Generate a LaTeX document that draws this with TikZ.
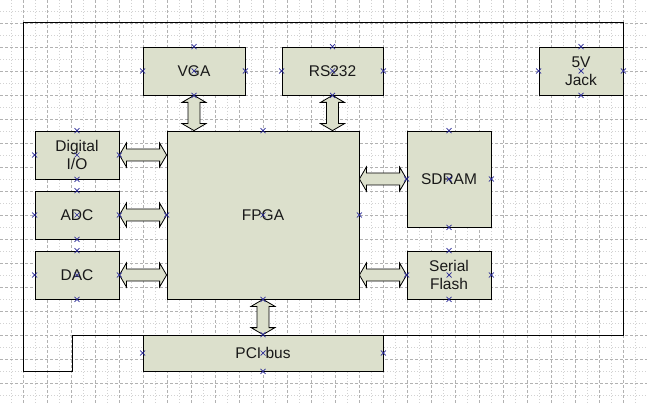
\documentclass[tikz,border=0pt]{standalone}
\usepackage{fontspec}
\setmainfont{Liberation Sans}
\usetikzlibrary{calc}

\definecolor{boxfill}{RGB}{220,224,204}
\definecolor{cptblue}{RGB}{40,40,150}

\begin{document}
\begin{tikzpicture}[
            x=1pt, y=-1pt,
            minor/.style={gray!35, line width=0.5pt, dash pattern=on 1pt off 2pt},
            major/.style={gray!60, line width=0.6pt, dash pattern=on 3pt off 2pt},
            board/.style={draw=black, line width=1pt},
            block/.style={draw=black, fill=boxfill, line width=0.8pt, inner sep=0pt,
                    align=center, text=black!90, font=\fontsize{15.5}{18}\selectfont},
            bus/.style={draw=black, fill=boxfill, line width=0.8pt, line join=miter},
            hbus/.style={to path={let \p1=(\tikztostart), \p2=(\tikztotarget) in
                    (\x1,\y1) -- (\x1+7pt,\y1+12pt) -- (\x1+7pt,\y1+6pt) -- (\x2-7pt,\y1+6pt)
                    -- (\x2-7pt,\y1+12pt) -- (\x2,\y1) -- (\x2-7pt,\y1-12pt) -- (\x2-7pt,\y1-6pt)
                    -- (\x1+7pt,\y1-6pt) -- (\x1+7pt,\y1-12pt) -- cycle}},
            vbus/.style={to path={let \p1=(\tikztostart), \p2=(\tikztotarget) in
                    (\x1,\y1) -- (\x1+12pt,\y1-7pt) -- (\x1+6pt,\y1-7pt) -- (\x1+6pt,\y2+7pt)
                    -- (\x1+12pt,\y2+7pt) -- (\x1,\y2) -- (\x1-12pt,\y2+7pt) -- (\x1-6pt,\y2+7pt)
                    -- (\x1-6pt,\y1-7pt) -- (\x1-12pt,\y1-7pt) -- cycle}},
            cpt/.style={draw=cptblue, line width=0.7pt}
        ]
        \useasboundingbox (0,0) rectangle (647,403);
        % grid
        \foreach \g in {11,35,...,647} {
            \draw[minor] (\g,0) -- (\g,403);
            \draw[minor] (0,\g) -- (647,\g);
        }
        \foreach \g in {23,47,...,647} {
            \draw[major] (\g,0) -- (\g,403);
            \draw[major] (0,\g) -- (647,\g);
        }
        % board outline
        \draw[board] (23,23) -- (623,23) -- (623,335) -- (383,335) -- (383,371) -- (143,371)
            -- (143,335) -- (72,335) -- (72,371) -- (23,371) -- cycle;

        % blocks
        \node[block, minimum width=102, minimum height=48] (vga) at (194,71) {VGA};
        \node[block, minimum width=101, minimum height=48] (rs) at (332.5,71) {RS232};
        \node[block, minimum width=84, minimum height=48] (jack) at (581,71) {5V\\Jack};
        \node[block, minimum width=84, minimum height=48] (dio) at (77,155) {Digital\\I/O};
        \node[block, minimum width=84, minimum height=48] (adc) at (77,215) {ADC};
        \node[block, minimum width=84, minimum height=48] (dac) at (77,275) {DAC};
        \node[block, minimum width=192, minimum height=168] (fpga) at (263,215) {FPGA};
        \node[block, minimum width=84, minimum height=96] (sdram) at (449,179) {SDRAM};
        \node[block, minimum width=84, minimum height=48] (flash) at (449,275) {Serial\\Flash};
        \node[block, minimum width=240, minimum height=36] (pci) at (263,353) {PCI bus};

        % buses
        \draw[bus] (vga.south) to[vbus] (vga.south |- fpga.north);
        \draw[bus] (rs.south) to[vbus] (rs.south |- fpga.north);
        \draw[bus] (fpga.south) to[vbus] (pci.north);
        \draw[bus] (dio.east) to[hbus] (dio.east -| fpga.west);
        \draw[bus] (adc.east) to[hbus] (adc.east -| fpga.west);
        \draw[bus] (dac.east) to[hbus] (dac.east -| fpga.west);
        \draw[bus] (fpga.east |- sdram.west) to[hbus] (sdram.west);
        \draw[bus] (fpga.east |- flash.west) to[hbus] (flash.west);

        % connection points
        \foreach \b in {vga,rs,jack,dio,adc,dac,fpga,sdram,flash,pci}
            \foreach \a in {north,south,east,west,center}
                \draw[cpt] (\b.\a) +(-2.5,-2.5) -- +(2.5,2.5) +(-2.5,2.5) -- +(2.5,-2.5);
    \end{tikzpicture}
\end{document}
